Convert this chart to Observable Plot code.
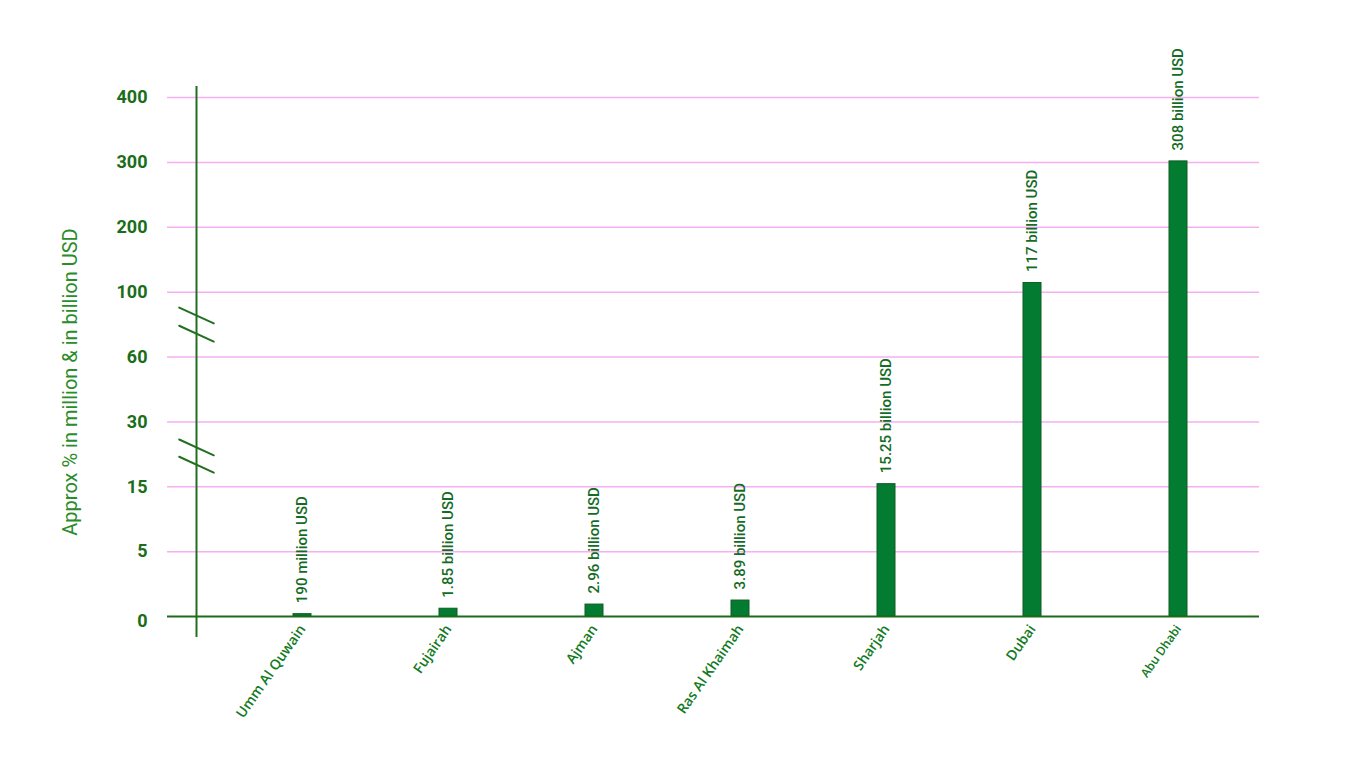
<!DOCTYPE html>
<html><head><meta charset="utf-8">
<script src="https://cdn.jsdelivr.net/npm/d3@7"></script>
<script src="https://cdn.jsdelivr.net/npm/@observablehq/plot@0.6"></script>
<style>body{margin:0;background:#fff} #chart svg{display:block}</style>
</head><body><div id="chart"></div>
<script>
const emirates = ["Umm Al Quwain","Fujairah","Ajman","Ras Al Khaimah","Sharjah","Dubai","Abu Dhabi"];
const values = [0.18, 0.6, 0.92, 1.23, 15.6, 114, 301.5];
const valueLabels = ["190 million USD","1.85 billion USD","2.96 billion USD","3.89 billion USD","15.25 billion USD","117 billion USD","308 billion USD"];
const yTicks = [0,5,15,30,60,100,200,300,400];
const yTitle = "Approx % in million & in billion USD";
const axisBreaks = [74.4, 85.6, 20.1, 24.1];

const data = emirates.map((name, i) => ({name, value: values[i], label: valueLabels[i]}));
const W = 1365, H = 768, mt = 97, mb = 152, ml = 167, mr = 106;
const yRange = yTicks.map((_, i) => (H - mb) - i * (H - mb - mt) / (yTicks.length - 1));

const green = "#1a6d1a", barFill = "#037b30", barStroke = "#0d5e20";
const lineShape = {draw(ctx, l) { ctx.moveTo(0, 0); ctx.lineTo(0, -l); }};

const chart = Plot.plot({
  width: W, height: H,
  marginTop: mt, marginBottom: mb, marginLeft: ml, marginRight: mr,
  style: {fontFamily: "Roboto, sans-serif", background: "#fff"},
  x: {type: "band", domain: emirates, paddingInner: 0.877, paddingOuter: 0.678, align: 0.636},
  y: {type: "linear", domain: yTicks, range: yRange},
  marks: [
    Plot.gridY(yTicks.filter(t => t !== 0), {stroke: "#f6b0f2", strokeOpacity: 1, strokeWidth: 1.5}),
    Plot.ruleX([emirates[0]], {dx: -106, insetTop: -11, insetBottom: -21, stroke: "#226f22", strokeWidth: 2}),
    Plot.vector(axisBreaks, {x: () => emirates[0], y: d => d, dx: -106, length: 38, rotate: 114.6, anchor: "middle", stroke: "#226f22", strokeWidth: 2, shape: lineShape}),
    Plot.barY(data, {x: "name", y: "value", fill: barFill, stroke: barStroke, strokeWidth: 1}),
    Plot.ruleY([0], {stroke: "#1d6b1d", strokeWidth: 2}),
    Plot.text(data, {x: "name", y: "value", text: "label", rotate: -90, textAnchor: "start", dy: -11, fontSize: 15, fontWeight: 500, fill: "#146b26"}),
    Plot.axisY(yTicks.filter(t => t !== 0), {tickSize: 0, tickPadding: 20, fontSize: 18, fontWeight: "bold", fill: green, label: null}),
    Plot.axisY([0], {tickSize: 0, tickPadding: 20, fontSize: 18, fontWeight: "bold", fill: green, label: null, dy: 5}),
    Plot.axisX(emirates.filter(e => e !== "Abu Dhabi"), {tickSize: 0, tickRotate: -55, tickPadding: 10, fontSize: 14, fontWeight: 600, fontFamily: "Open Sans", fill: "#117a22", label: null}),
    Plot.axisX(["Abu Dhabi"], {tickSize: 0, tickRotate: -55, tickPadding: 10, fontSize: 12, fontWeight: 600, fontFamily: "Open Sans", fill: "#117a22", label: null}),
    Plot.text([yTitle], {text: d => d, frameAnchor: "left", dx: -97, dy: 25, rotate: -90, textAnchor: "middle", fontSize: 20, fill: "#2a8c2a"})
  ]
});
document.getElementById("chart").appendChild(chart);
</script>
</body></html>
